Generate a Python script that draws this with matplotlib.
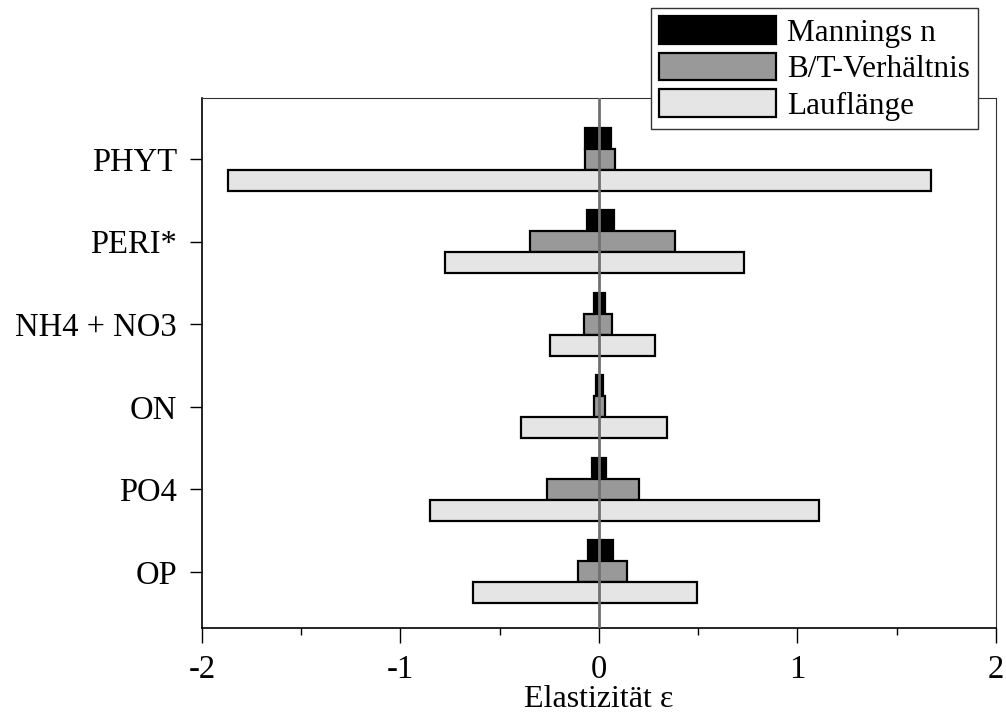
import numpy as np
import matplotlib
matplotlib.use('Agg')
import matplotlib.pyplot as plt
from matplotlib.ticker import MultipleLocator
from matplotlib.patches import Patch

plt.rcParams['font.family'] = ['Liberation Serif', 'DejaVu Serif']
plt.rcParams['axes.unicode_minus'] = False

# Kategorien von oben nach unten
kategorien = ['PHYT', 'PERI*', 'NH4 + NO3', 'ON', 'PO4', 'OP']

# Elastizitaeten: linkes (negatives) und rechtes (positives) Ende jedes Balkens
mannings_lo = [-0.07, -0.06, -0.025, -0.015, -0.035, -0.055]
mannings_hi = [0.06, 0.075, 0.03, 0.02, 0.035, 0.07]
bt_lo = [-0.07, -0.345, -0.075, -0.025, -0.26, -0.105]
bt_hi = [0.08, 0.385, 0.065, 0.03, 0.20, 0.14]
lauf_lo = [-1.87, -0.775, -0.245, -0.395, -0.85, -0.635]
lauf_hi = [1.675, 0.73, 0.28, 0.345, 1.11, 0.495]

y = np.arange(len(kategorien))[::-1]
h = 0.254

fig = plt.figure(figsize=(10.06, 7.16), dpi=100)
ax = fig.add_axes([0.2008, 0.1229, 0.7892, 0.7402])

serien = [
    (mannings_lo, mannings_hi, h, 'black', 'Mannings n'),
    (bt_lo, bt_hi, 0, '#999999', 'B/T-Verhältnis'),
    (lauf_lo, lauf_hi, -h, '#e5e5e5', 'Lauflänge'),
]
for lo, hi, off, farbe, name in serien:
    lo = np.array(lo)
    hi = np.array(hi)
    ax.barh(y + off, hi - lo, left=lo, height=h, color=farbe,
            edgecolor='black', linewidth=1.6, zorder=2)

# Nulllinie
ax.axvline(0, color='#707070', linewidth=2, zorder=3)

ax.set_xlim(-2, 2)
ax.set_ylim(-0.68, 5.74)
ax.xaxis.set_major_locator(MultipleLocator(1))
ax.xaxis.set_minor_locator(MultipleLocator(0.5))
ax.set_yticks(y)
ax.set_yticklabels(kategorien)
ax.tick_params(axis='both', which='major', direction='out', labelsize=23.5, width=1, length=9)
ax.tick_params(axis='x', which='major', pad=8, length=11)
ax.tick_params(axis='x', which='minor', direction='out', width=1, length=5)
ax.tick_params(axis='y', which='major', pad=9)
ax.set_xlabel('Elastizität ε', fontsize=23, labelpad=0)

for s in ['top', 'right']:
    ax.spines[s].set_linewidth(0.8)
    ax.spines[s].set_color('#333333')
for s in ['left', 'bottom']:
    ax.spines[s].set_linewidth(1.2)

handles = [Patch(facecolor=f, edgecolor='black', linewidth=1.6) for _, _, _, f, _ in serien]
labels = [n for _, _, _, _, n in serien]
leg = fig.legend(handles, labels, loc='upper right',
                 bbox_to_anchor=(978 / 1006, 1 - 8 / 716), borderaxespad=0,
                 fontsize=22.5, handlelength=3.75, handleheight=1.0,
                 handletextpad=0.36, labelspacing=0.16, borderpad=0.25,
                 fancybox=False, framealpha=1, edgecolor='#333333')
leg.get_frame().set_linewidth(1)

plt.savefig('out.png', dpi=100)
